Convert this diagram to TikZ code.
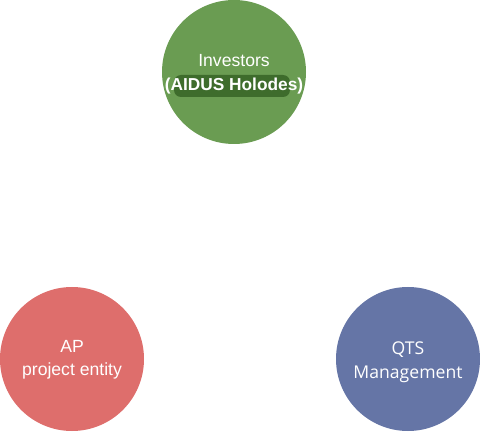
\documentclass[tikz,border=0pt]{standalone}
\usepackage{fontspec}
\setmainfont{Liberation Sans}
\newfontfamily\qtsfont{Open Sans}
\definecolor{cgreen}{RGB}{106,156,82}
\definecolor{cdkgreen}{RGB}{62,108,44}
\definecolor{cred}{RGB}{222,110,108}
\definecolor{cblue}{RGB}{101,117,166}
\begin{document}
\begin{tikzpicture}[x=1pt,y=-1pt,
  bubble/.style={circle,minimum size=144pt,inner sep=0pt},
  lbl/.style={text=white,font=\fontsize{17.6}{21}\selectfont,align=center,inner sep=0pt}]
\useasboundingbox (0,0) rectangle (480,433);
\node[bubble,fill=cgreen] (inv) at (234,72) {};
\node[bubble,fill=cred] (ap) at (72,359) {};
\node[bubble,fill=cblue] (qts) at (408,359) {};
\fill[cdkgreen,rounded corners=7pt] (174,75) rectangle (290,97);
\node[lbl] (invt1) at (234,61) {Investors};
\node[lbl,font=\fontsize{17.3}{21}\selectfont\bfseries] (invt2) at (234,86) {(AIDUS Holodes)};
\node[lbl] (apt1) at (72,346) {AP};
\node[lbl] (apt2) at (72,371) {project entity};
\node[lbl,font=\fontsize{17.6}{21}\qtsfont] (qt1) at (408,350) {QTS};
\node[lbl,font=\fontsize{17.6}{21}\qtsfont] (qt2) at (408,374) {Management};
\end{tikzpicture}
\end{document}
